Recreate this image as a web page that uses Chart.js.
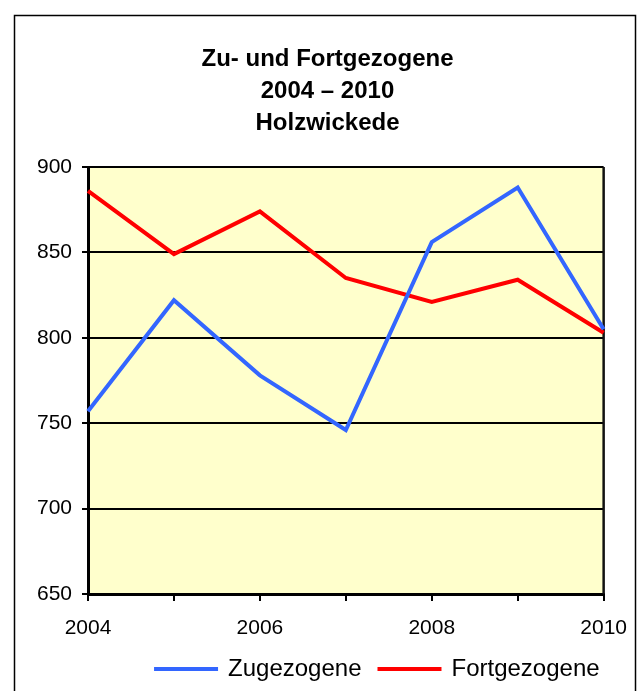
<!DOCTYPE html>
<html lang="de">
<head>
<meta charset="utf-8">
<title>Zu- und Fortgezogene 2004 – 2010 Holzwickede</title>
<script src="https://cdn.jsdelivr.net/npm/chart.js@4.4.1/dist/chart.umd.min.js"></script>
<style>
  html, body { margin: 0; padding: 0; background: #fff; }
  #wrap { width: 642px; height: 691px; }
</style>
</head>
<body>
<div id="wrap"><canvas id="chart" width="642" height="691"></canvas></div>
<script>
const years = ['2004', '2005', '2006', '2007', '2008', '2009', '2010'];
const zugezogene = [757, 822, 778, 746, 856, 888, 805];
const fortgezogene = [886, 849, 874, 835, 821, 834, 803];
const yTicks = [650, 700, 750, 800, 850, 900];

const titleLines = ['Zu- und Fortgezogene', '2004 – 2010', 'Holzwickede'];
const FONT = '"Liberation Sans", Arial, Helvetica, sans-serif';

// Outer frame + yellow plot background
const framePlugin = {
  id: 'frame',
  beforeDraw(chart) {
    const { ctx, chartArea: a } = chart;
    ctx.save();
    ctx.fillStyle = '#FFFFCC';
    ctx.fillRect(a.left, a.top, a.right - a.left, a.bottom - a.top);
    ctx.strokeStyle = '#000';
    ctx.lineWidth = 1.5;
    ctx.strokeRect(14.5, 15.5, 621, 720);
    ctx.restore();
  },
  beforeDatasetsDraw(chart) {
    const { ctx, chartArea: a } = chart;
    ctx.save();
    ctx.strokeStyle = '#111';
    ctx.lineWidth = 2.5;
    ctx.beginPath();
    ctx.moveTo(a.right, a.top);
    ctx.lineTo(a.right, a.bottom);
    ctx.stroke();
    ctx.restore();
  },
};

// title is centred on the frame, legend sits right of centre in the original
const boxShift = {
  id: 'boxShift',
  afterLayout(chart) {
    chart.titleBlock.left += 25;
    chart.titleBlock.right += 25;
    chart.legend.left += 32;
    chart.legend.right += 32;
  },
};

new Chart(document.getElementById('chart'), {
  type: 'line',
  data: {
    labels: years,
    datasets: [
      {
        label: 'Zugezogene',
        data: zugezogene,
        borderColor: '#3366FF',
        backgroundColor: '#3366FF',
        borderWidth: 4,
        pointRadius: 0,
        tension: 0,
      },
      {
        label: 'Fortgezogene',
        data: fortgezogene,
        borderColor: '#FF0000',
        backgroundColor: '#FF0000',
        borderWidth: 4,
        pointRadius: 0,
        tension: 0,
      },
    ],
  },
  options: {
    responsive: false,
    animation: false,
    layout: { padding: { left: 0, right: 37, top: 0, bottom: 0 } },
    plugins: {
      title: {
        display: true,
        text: titleLines,
        color: '#000',
        font: { family: FONT, size: 24, weight: 'bold', lineHeight: 32 / 24 },
        padding: { top: 43, bottom: 28 },
      },
      legend: {
        display: true,
        position: 'bottom',
        fullSize: false,
        labels: {
          color: '#000',
          font: { family: FONT, size: 24 },
          boxWidth: 60,
          boxHeight: 0.1,
          padding: 18,
        },
      },
      tooltip: { enabled: false },
    },
    scales: {
      x: {
        offset: false,
        grid: {
          display: true,
          drawOnChartArea: false,
          drawTicks: true,
          tickLength: 7,
          color: '#000',
          lineWidth: 2,
        },
        border: { display: true, color: '#000', width: 3 },
        ticks: {
          autoSkip: false,
          maxRotation: 0,
          padding: 15,
          color: '#000',
          font: { family: FONT, size: 21 },
          callback: (v, i) => (i % 2 === 0 ? years[i] : ''),
        },
        afterFit(scale) {
          scale.height = 45;
        },
      },
      y: {
        min: yTicks[0],
        max: yTicks[yTicks.length - 1],
        afterBuildTicks(scale) {
          scale.ticks = yTicks.map(v => ({ value: v }));
        },
        grid: {
          color: '#000',
          lineWidth: 2,
          tickLength: 6,
        },
        border: { display: true, color: '#000', width: 3 },
        ticks: {
          padding: 10,
          color: '#000',
          font: { family: FONT, size: 21 },
        },
        afterFit(scale) {
          scale.width = 88;
        },
      },
    },
  },
  plugins: [framePlugin, boxShift],
});
</script>
</body>
</html>
